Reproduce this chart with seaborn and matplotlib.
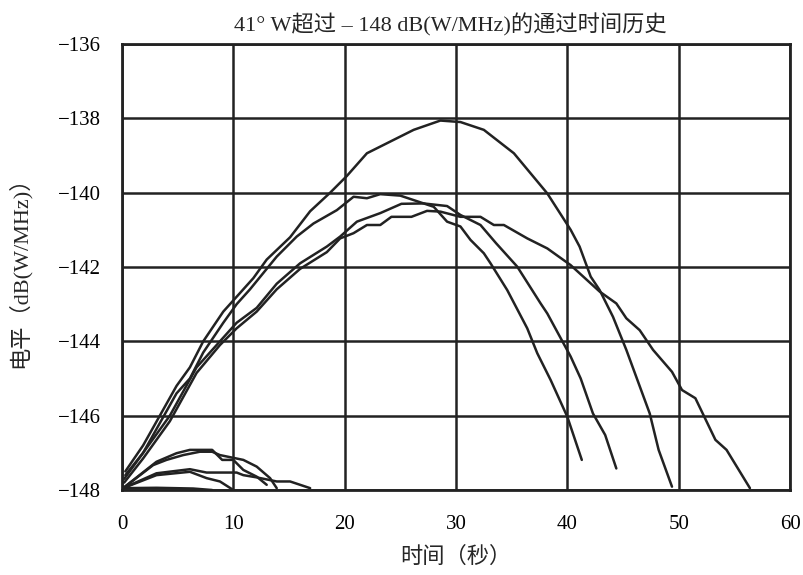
import numpy as np
import pandas as pd
import matplotlib
matplotlib.use("Agg")
import matplotlib.pyplot as plt
import seaborn as sns

# curve data (time in s, level in dB(W/MHz))
a_x = [0.3, 1.9, 3.4, 4.9, 6.1, 7.3, 9.1, 10.3, 11.8, 13.0, 15.1, 16.9, 18.7, 20.2, 22.0, 23.8,
       26.2, 28.6, 30.4, 32.5, 35.2, 38.2, 40.3, 41.1, 42.1, 42.9, 44.1, 45.3, 47.4, 48.2, 49.4]
a_y = [-147.5, -146.8, -146.0, -145.2, -144.7, -144.0, -143.2, -142.8, -142.3, -141.8, -141.2,
       -140.5, -140.0, -139.55, -138.94, -138.67, -138.31, -138.06, -138.1, -138.31, -138.94,
       -140.02, -141.0, -141.45, -142.26, -142.62, -143.34, -144.23, -145.94, -146.92, -147.91]

b_x = [0.3, 1.9, 3.4, 4.9, 6.1, 7.3, 9.1, 10.3, 11.5, 13.9, 15.7, 17.2, 19.3, 20.8, 22.0, 23.2,
       25.0, 26.2, 28.0, 29.2, 30.4, 31.3, 32.5, 33.1, 34.6, 36.4, 37.3, 38.5, 40.0, 41.3]
b_y = [-147.6, -147.0, -146.2, -145.4, -145.0, -144.3, -143.5, -143.0, -142.6, -141.72, -141.18,
       -140.83, -140.47, -140.11, -140.15, -140.04, -140.08, -140.2, -140.38, -140.78, -140.91,
       -141.27, -141.63, -141.9, -142.62, -143.65, -144.32, -145.04, -146.03, -147.19]

c_x = [0.2, 1.9, 4.3, 6.7, 8.8, 10.3, 12.1, 13.9, 16.0, 18.4, 19.6, 21.1, 23.2, 25.1, 27.1,
       29.2, 30.4, 32.2, 33.6, 35.5, 37.6, 38.2, 40.3, 41.2, 42.3, 43.4, 44.4]
c_y = [-147.7, -147.0, -146.0, -144.7, -144.0, -143.5, -143.1, -142.45, -141.9, -141.45, -141.18,
       -140.78, -140.55, -140.30, -140.29, -140.36, -140.6, -140.87, -141.36, -141.99, -142.98,
       -143.25, -144.41, -145.0, -145.94, -146.52, -147.42]

d_x = [0.2, 1.9, 4.3, 6.7, 8.8, 10.3, 12.1, 13.9, 16.0, 18.4, 19.6, 20.8, 22.0, 23.2, 24.2,
       26.0, 27.4, 28.6, 30.4, 32.2, 33.4, 34.3, 36.4, 38.2, 40.3, 42.9, 44.4, 45.3, 46.5, 47.7,
       49.4, 50.3, 51.5, 53.3, 54.3, 56.4]
d_y = [-147.8, -147.15, -146.15, -144.85, -144.1, -143.65, -143.2, -142.6, -142.05, -141.6,
       -141.23, -141.09, -140.87, -140.87, -140.65, -140.65, -140.49, -140.51, -140.65, -140.65,
       -140.87, -140.87, -141.23, -141.50, -141.95, -142.66, -142.98, -143.38, -143.7, -144.23,
       -144.82, -145.31, -145.53, -146.65, -146.92, -147.95]

# short low passes near the start
e_x = [0.1, 3.1, 4.9, 6.1, 8.1, 9.0, 10.0, 10.9, 12.1, 13.0]
e_y = [-147.95, -147.24, -147.01, -146.92, -146.92, -147.19, -147.19, -147.46, -147.64, -147.86]
f_x = [0.1, 2.8, 4.0, 5.5, 7.0, 8.1, 8.8, 10.9, 12.1, 13.3, 13.9]
f_y = [-147.95, -147.33, -147.19, -147.06, -146.97, -146.97, -147.06, -147.19, -147.37, -147.68, -147.95]
g_x = [0.1, 3.1, 6.1, 7.6, 10.3, 10.9, 12.1, 13.9, 15.1, 16.9]
g_y = [-147.95, -147.55, -147.44, -147.53, -147.53, -147.6, -147.66, -147.77, -147.77, -147.95]
h_x = [0.1, 3.1, 6.1, 7.6, 8.8, 10.0]
h_y = [-147.95, -147.6, -147.51, -147.68, -147.77, -148.0]
i_x = [0.1, 3.1, 6.4, 8.1]
i_y = [-147.95, -147.94, -147.96, -148.0]

curves = {"a": (a_x, a_y), "b": (b_x, b_y), "c": (c_x, c_y), "d": (d_x, d_y),
          "e": (e_x, e_y), "f": (f_x, f_y), "g": (g_x, g_y), "h": (h_x, h_y), "i": (i_x, i_y)}

rows = []
for name, (xs, ys) in curves.items():
    for x, y in zip(xs, ys):
        rows.append({"pass": name, "t": x, "level": y})
df = pd.DataFrame(rows)

sns.set_style("white")
plt.rcParams['font.family'] = ['Liberation Serif', 'Noto Sans CJK SC', 'DejaVu Sans']
plt.rcParams['axes.unicode_minus'] = True

ink = "#222222"
fig = plt.figure(figsize=(8.04, 5.75), dpi=100)
ax = fig.add_axes([0.1517, 0.1478, 0.9826 - 0.1517, 0.9235 - 0.1478])

sns.lineplot(data=df, x="t", y="level", units="pass", estimator=None, sort=False,
             color=ink, linewidth=1.8, ax=ax, legend=False)

ax.set_xlim(0, 60)
ax.set_ylim(-148, -136)
ax.set_xticks(np.arange(0, 61, 10))
ax.set_yticks(np.arange(-148, -135, 2))
ax.grid(True, color=ink, linewidth=1.8)
ax.set_axisbelow(True)
for s in ax.spines.values():
    s.set_color(ink)
    s.set_linewidth(2.0)
ax.tick_params(length=0, labelsize=15, colors="black")
ax.tick_params(axis="x", pad=18)
ax.tick_params(axis="y", pad=15)

ax.set_xlabel("时间（秒）", fontsize=16, labelpad=9)
ax.set_ylabel("电平（dB(W/MHz)）", fontsize=16, labelpad=20)
ax.set_title("41° W超过 – 148 dB(W/MHz)的通过时间历史", fontsize=16, pad=9, x=0.491)

fig.savefig("out.png", dpi=100)
